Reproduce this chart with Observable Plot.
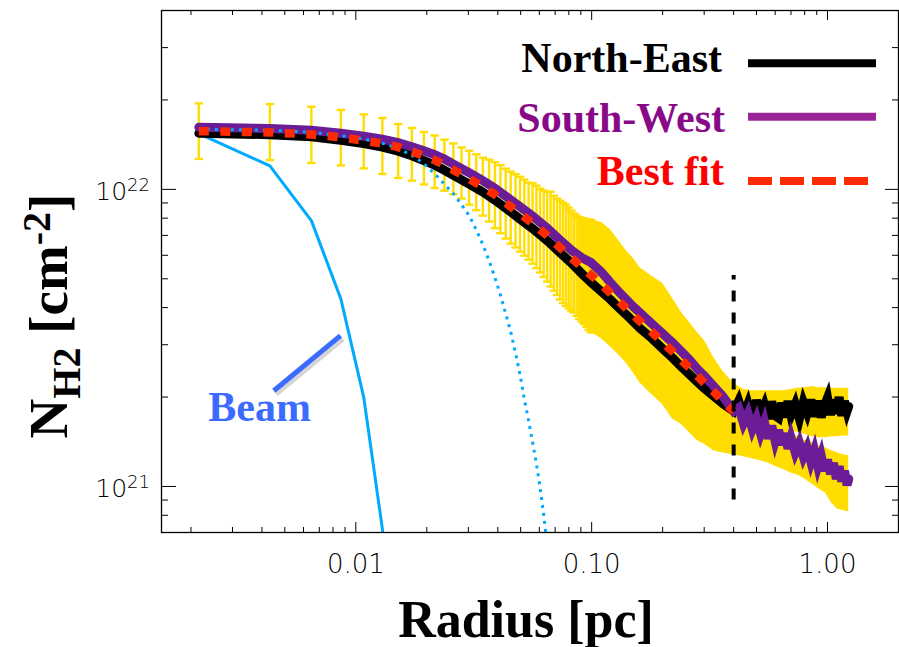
<!DOCTYPE html>
<html><head><meta charset="utf-8">
<script src="https://cdn.jsdelivr.net/npm/d3@7"></script>
<script src="https://cdn.jsdelivr.net/npm/@observablehq/plot@0.6"></script>
<style>
html,body{margin:0;padding:0;background:#fff;}
#chart{width:899px;height:647px;overflow:hidden;}
svg{display:block;}
</style></head><body><div id="chart"></div>
<script>
// ---------- data (radius in pc, column density in cm^-2) ----------
const profileR = [0.00216,0.00432,0.00648,0.00864,0.0108,0.01296,0.01512,0.01728,0.01944,0.0216,
  0.02376,0.02592,0.02808,0.03024,0.0324,0.03456,0.03672,0.03888,0.04104,0.0432,
  0.04536,0.04752,0.04968,0.05184,0.054,0.05616,0.05832,0.06048,0.06264,0.0648,
  0.06696,0.06912,0.07128,0.07344,0.0756,0.07776,0.07992,0.08208,0.08424,0.0864,
  0.08856,0.09072,0.09288,0.09504,0.0972,0.09936];
const errHi = [19.47e21,19.37e21,18.97e21,18.50e21,17.88e21,17.38e21,16.59e21,16.09e21,15.60e21,15.19e21,
  14.70e21,14.28e21,13.84e21,13.49e21,13.13e21,12.78e21,12.59e21,12.35e21,12.06e21,11.74e21,
  11.47e21,11.25e21,11.03e21,10.78e21,10.53e21,10.49e21,10.29e21,10.05e21,9.90e21,9.79e21,
  9.82e21,9.52e21,9.31e21,9.16e21,9.02e21,8.88e21,8.68e21,8.48e21,8.29e21,8.16e21,
  8.06e21,8.00e21,7.97e21,7.95e21,7.91e21,7.88e21];
const errLo = [12.66e21,12.56e21,12.27e21,12.04e21,11.77e21,11.27e21,10.92e21,10.70e21,10.39e21,10.11e21,
  9.90e21,9.63e21,9.31e21,8.88e21,8.51e21,8.16e21,7.79e21,7.40e21,7.12e21,6.83e21,
  6.57e21,6.37e21,6.17e21,5.98e21,5.80e21,5.62e21,5.43e21,5.25e21,5.07e21,4.89e21,
  4.71e21,4.56e21,4.41e21,4.26e21,4.14e21,4.05e21,3.97e21,3.89e21,3.85e21,3.75e21,
  3.66e21,3.59e21,3.52e21,3.44e21,3.36e21,3.30e21];

// error envelope at larger radii (North-East and South-West)
const bandR = [0.09,0.10,0.11,0.12,0.13,0.14,0.15,0.16,0.18,0.20,0.22,0.24,0.26,0.28,0.30,0.33,0.36,0.40,
  0.44,0.48,0.52,0.56,0.60,0.65,0.70,0.75,0.80,0.86,0.92,0.98,1.04,1.10,1.16,1.23];
const neHi = [8.05e21,7.88e21,7.73e21,7.32e21,6.72e21,6.22e21,5.85e21,5.45e21,5.09e21,4.82e21,4.29e21,3.85e21,3.56e21,3.30e21,3.10e21,2.70e21,2.44e21,2.22e21,
  2.12e21,2.10e21,2.10e21,2.10e21,2.10e21,2.10e21,2.12e21,2.14e21,2.15e21,2.17e21,2.15e21,2.15e21,2.14e21,2.14e21,2.14e21,2.14e21];
const neLo = [3.56e21,3.30e21,3.15e21,2.96e21,2.78e21,2.61e21,2.42e21,2.24e21,2.04e21,1.89e21,1.69e21,1.62e21,1.52e21,1.43e21,1.39e21,1.32e21,1.30e21,1.28e21,
  1.67e21,1.65e21,1.64e21,1.63e21,1.60e21,1.58e21,1.54e21,1.52e21,1.50e21,1.47e21,1.46e21,1.46e21,1.47e21,1.47e21,1.48e21,1.48e21];
const swHi = [8.05e21,7.88e21,7.73e21,7.32e21,6.72e21,6.22e21,5.85e21,5.45e21,5.09e21,4.82e21,4.29e21,3.85e21,3.56e21,3.30e21,3.10e21,2.70e21,2.44e21,2.22e21,
  1.99e21,1.90e21,1.83e21,1.79e21,1.75e21,1.69e21,1.52e21,1.47e21,1.43e21,1.41e21,1.37e21,1.35e21,1.32e21,1.30e21,1.28e21,1.27e21];
const swLo = [3.56e21,3.30e21,3.15e21,2.96e21,2.78e21,2.61e21,2.42e21,2.24e21,2.04e21,1.89e21,1.69e21,1.62e21,1.52e21,1.43e21,1.39e21,1.32e21,1.30e21,1.28e21,
  1.26e21,1.24e21,1.22e21,1.20e21,1.17e21,1.14e21,1.11e21,1.09e21,1.06e21,1.02e21,0.98e21,0.95e21,0.88e21,0.84e21,0.83e21,0.82e21];

// profiles
const lineR = [0.00216,0.00432,0.00648,0.00864,0.0108,0.01296,0.01512,0.01728,0.01944,0.0216,
  0.02376,0.02592,0.03024,0.03456,0.03888,0.0432,0.04968,0.05616,0.0648,0.07344,
  0.08208,0.09072,0.09936,0.11,0.12,0.13,0.14,0.15,0.16,0.18,
  0.20,0.22,0.24,0.26,0.28,0.30,0.33,0.36,0.40,
  0.42,0.44,0.46,0.48,0.50,0.52,0.54,0.56,0.58,0.60,0.62,0.64,0.66,0.68,0.70,
  0.73,0.76,0.79,0.82,0.85,0.88,0.91,0.94,0.97,1.00,1.03,1.06,1.09,1.12,1.15,1.18,1.21,1.23];
const northEast = [15.45e21,15.28e21,15.04e21,14.64e21,14.25e21,13.87e21,13.44e21,12.98e21,12.49e21,12.06e21,
  11.60e21,11.16e21,10.41e21,9.79e21,9.20e21,8.65e21,7.94e21,7.38e21,6.72e21,6.12e21,
  5.65e21,5.21e21,4.86e21,4.53e21,4.26e21,4.00e21,3.79e21,3.59e21,3.41e21,3.15e21,
  2.91e21,2.71e21,2.53e21,2.38e21,2.25e21,2.14e21,2.01e21,1.90e21,1.79e21,
  1.94e21,1.73e21,1.90e21,1.69e21,1.95e21,1.75e21,1.88e21,1.69e21,1.93e21,1.73e21,1.70e21,1.91e21,1.71e21,1.94e21,1.74e21,
  1.89e21,1.69e21,1.92e21,1.77e21,1.96e21,1.72e21,1.94e21,1.71e21,1.87e21,1.99e21,1.74e21,1.96e21,1.76e21,2.00e21,1.73e21,1.94e21,1.79e21,1.86e21];
const southWest = [16.19e21,16.04e21,15.82e21,15.45e21,15.10e21,14.75e21,14.36e21,13.92e21,13.49e21,13.08e21,
  12.64e21,12.16e21,11.38e21,10.70e21,10.09e21,9.49e21,8.75e21,8.13e21,7.40e21,6.75e21,
  6.24e21,5.89e21,5.67e21,5.27e21,4.86e21,4.53e21,4.26e21,4.03e21,3.85e21,3.53e21,
  3.27e21,3.05e21,2.85e21,2.67e21,2.49e21,2.36e21,2.17e21,2.01e21,1.79e21,
  1.84e21,1.63e21,1.76e21,1.56e21,1.69e21,1.51e21,1.65e21,1.45e21,1.60e21,1.42e21,1.55e21,1.38e21,1.51e21,1.34e21,1.46e21,
  1.30e21,1.40e21,1.26e21,1.35e21,1.21e21,1.32e21,1.17e21,1.27e21,1.13e21,1.23e21,1.10e21,1.20e21,1.06e21,1.17e21,1.04e21,1.13e21,1.01e21,1.06e21];
const bestFit = [15.70e21,15.55e21,15.31e21,14.96e21,14.59e21,14.26e21,13.87e21,13.41e21,12.96e21,12.54e21,
  12.09e21,11.62e21,10.85e21,10.19e21,9.60e21,9.01e21,8.29e21,7.68e21,6.99e21,6.37e21,
  5.88e21,5.48e21,5.15e21,4.80e21,4.48e21,4.21e21,3.98e21,3.78e21,3.60e21,3.31e21,
  3.06e21,2.85e21,2.66e21,2.51e21,2.36e21,2.23e21,2.08e21,1.94e21,1.79e21];
// beam-convolved model (dotted) on the profile grid
const model = [15.94e21,15.82e21,15.57e21,15.16e21,14.78e21,14.30e21,13.71e21,13.03e21,12.20e21,11.29e21,
  10.41e21,9.67e21,8.88e21,8.16e21,7.32e21,6.52e21,5.76e21,5.05e21,4.41e21,3.82e21,
  3.32e21,2.82e21,2.38e21,1.96e21,1.67e21,1.41e21,1.19e21,0.99e21,0.80e21,0.633e21];
// beam profile (solid blue)
const beam = [15.4e21,12.0e21,7.85e21,4.28e21,2.00e21,0.72e21,0.2e21];

// fitting limit marker and annotation anchors
const fitLimit = [{r: 0.40, from: 0.90e21, to: 5.13e21}];
const beamPointer = [{x1: 0.00449, y1: 2.10e21, x2: 0.00861, y2: 3.22e21}];
const beamLabel = [{x: 0.00237, y: 1.667e21, text: "Beam"}];

const legendLabels = ["North-East", "South-West", "Best fit"];
const xMajor = [0.01, 0.1, 1];
const xMinor = [0.002,0.003,0.004,0.005,0.006,0.007,0.008,0.009,0.02,0.03,0.04,0.05,0.06,0.07,0.08,0.09,0.2,0.3,0.4,0.5,0.6,0.7,0.8,0.9];
const yMajor = [1e21, 1e22];
const yMinor = [8e20,9e20,2e21,3e21,4e21,5e21,6e21,7e21,8e21,9e21,2e22,3e22];
const yTickText = [{v: 1e21, base: "10", exp: "21"}, {v: 1e22, base: "10", exp: "22"}];

// ---------- tables ----------
const bars = profileR.map((r, i) => ({r, lo: errLo[i], hi: errHi[i]}));
const band = bandR.map((r, i) => ({r, neHi: neHi[i], neLo: neLo[i], swHi: swHi[i], swLo: swLo[i]}));
const lines = lineR.map((r, i) => ({r, ne: northEast[i], sw: southWest[i]}));
const fit = bestFit.map((v, i) => ({r: lineR[i], v}));
const modelData = model.map((v, i) => ({r: profileR[i], v}));
const beamData = beam.map((v, i) => ({r: profileR[i], v}));

const YELLOW = "#ffdd00", PURPLE = "#6a1d96", RED = "#ff2a00", BEAM = "#00aaff", BEAMTXT = "#3b6cff";
const SERIF = "'Liberation Serif', 'Times New Roman', serif";
const SANS = "'DejaVu Sans', sans-serif";
const capSymbol = {draw(ctx, size) { const w = Math.sqrt(size / Math.PI); ctx.moveTo(-w, 0); ctx.lineTo(w, 0); }};

const plot = Plot.plot({
  width: 899, height: 647,
  marginLeft: 161, marginRight: 1, marginTop: 10, marginBottom: 115,
  style: {background: "white", overflow: "visible"},
  x: {type: "log", domain: [0.0015, 2], label: null},
  y: {type: "log", domain: [7e20, 4e22], label: null},
  marks: [
    Plot.areaY(band, {x: "r", y1: "neLo", y2: "neHi", fill: YELLOW, curve: "linear"}),
    Plot.areaY(band, {x: "r", y1: "swLo", y2: "swHi", fill: YELLOW, curve: "linear"}),
    Plot.ruleX(bars, {x: "r", y1: "lo", y2: "hi", stroke: YELLOW, strokeWidth: 2.4}),
    Plot.dot(bars, {x: "r", y: "hi", symbol: capSymbol, r: 4.2, stroke: YELLOW, fill: "none", strokeWidth: 2.4}),
    Plot.dot(bars, {x: "r", y: "lo", symbol: capSymbol, r: 4.2, stroke: YELLOW, fill: "none", strokeWidth: 2.4}),
    Plot.line(beamData, {x: "r", y: "v", stroke: BEAM, strokeWidth: 3, clip: true, strokeLinejoin: "miter"}),
    Plot.line(lines, {x: "r", y: "ne", stroke: "black", strokeWidth: 9, strokeLinejoin: "miter", strokeMiterlimit: 4}),
    Plot.line(lines, {x: "r", y: "sw", stroke: PURPLE, strokeWidth: 9, strokeLinejoin: "miter", strokeMiterlimit: 4}),
    Plot.line(modelData, {x: "r", y: "v", stroke: BEAM, strokeWidth: 3, strokeDasharray: "3,5", strokeLinecap: "butt", clip: true}),
    Plot.line(fit, {x: "r", y: "v", stroke: RED, strokeWidth: 8.5, strokeDasharray: "10,11.5", strokeLinecap: "butt"}),
    Plot.ruleX(fitLimit, {x: "r", y1: "from", y2: "to", stroke: "black", strokeWidth: 4, strokeDasharray: "11,11", strokeLinecap: "butt"}),
    Plot.link(beamPointer, {x1: "x1", y1: "y1", x2: "x2", y2: "y2", stroke: "#888", strokeOpacity: 0.35, strokeWidth: 6, dx: 2, dy: 3, strokeLinecap: "butt"}),
    Plot.link(beamPointer, {x1: "x1", y1: "y1", x2: "x2", y2: "y2", stroke: BEAMTXT, strokeWidth: 5, strokeLinecap: "butt"}),
    Plot.text(beamLabel, {x: "x", y: "y", text: "text", fill: BEAMTXT, fontSize: 42, fontWeight: "bold", fontFamily: SERIF, textAnchor: "start", lineAnchor: "bottom"}),
    Plot.frame({stroke: "black", strokeWidth: 1.3}),
    Plot.axisX(xMajor, {anchor: "bottom", tickSize: -10, fill: "none", label: null}),
    Plot.axisX(xMinor, {anchor: "bottom", tickSize: -5, fill: "none", label: null}),
    Plot.axisX(xMajor, {anchor: "top", tickSize: -9, fill: "none", label: null}),
    Plot.axisX(xMinor, {anchor: "top", tickSize: -4, fill: "none", label: null}),
    Plot.axisX(xMajor, {anchor: "bottom", tickSize: 0, tickPadding: 22, tickFormat: d3.format(".2f"), fontSize: 26, fontWeight: 300, fontFamily: SANS, fill: "black", label: null}),
    Plot.axisY(yMajor, {anchor: "left", tickSize: -15, fill: "none", label: null}),
    Plot.axisY(yMinor, {anchor: "left", tickSize: -7, fill: "none", label: null}),
    Plot.axisY(yMajor, {anchor: "right", tickSize: -14, fill: "none", label: null}),
    Plot.axisY(yMinor, {anchor: "right", tickSize: -7, fill: "none", label: null})
  ]
});
document.getElementById("chart").appendChild(plot);

// ---------- extra text (superscripts, titles, legend) ----------
const svg = d3.select(plot);
const ys = plot.scale("y");
for (const t of yTickText) {
  const y = ys.apply(t.v);
  const tx = svg.append("text").attr("x", 150).attr("y", y + 11).attr("text-anchor", "end")
    .attr("font-family", SANS).attr("font-weight", 300).attr("font-size", 25).attr("fill", "black");
  tx.append("tspan").text(t.base);
  tx.append("tspan").attr("font-size", 18).attr("dy", -9).text(t.exp);
}
// x title
svg.append("text").attr("x", 526).attr("y", 637).attr("text-anchor", "middle")
  .attr("font-family", SERIF).attr("font-weight", "bold").attr("font-size", 52).attr("fill", "black")
  .text("Radius [pc]");
// y title
const yt = svg.append("text").attr("transform", "translate(67,316) rotate(-90)").attr("text-anchor", "middle")
  .attr("font-family", SERIF).attr("font-weight", "bold").attr("font-size", 55).attr("fill", "black");
yt.append("tspan").text("N");
yt.append("tspan").attr("font-size", 40).attr("dy", 13).text("H2");
yt.append("tspan").attr("dy", -13).text("\u00a0[cm");
yt.append("tspan").attr("font-size", 40).attr("dy", -17).text("-2");
yt.append("tspan").attr("dy", 17).text("]");
// legend
const legendStyle = [
  {color: "black", line: "black", tx: 722, ty: 71.7, ly: 63.3, x2: 876, dash: null},
  {color: "#880a88", line: "#9b2596", tx: 725, ty: 131.7, ly: 116.7, x2: 876, dash: null},
  {color: "#ff0000", line: RED, tx: 724, ty: 185, ly: 181, x2: 868, dash: "24,8"}
];
legendLabels.forEach((label, i) => {
  const s = legendStyle[i];
  svg.append("text").attr("x", s.tx).attr("y", s.ty).attr("text-anchor", "end")
    .attr("font-family", SERIF).attr("font-weight", "bold").attr("font-size", 42).attr("fill", s.color).text(label);
  svg.append("line").attr("x1", 748).attr("x2", s.x2).attr("y1", s.ly).attr("y2", s.ly)
    .attr("stroke", s.line).attr("stroke-width", 8).attr("stroke-dasharray", s.dash);
});
</script>
</body></html>
